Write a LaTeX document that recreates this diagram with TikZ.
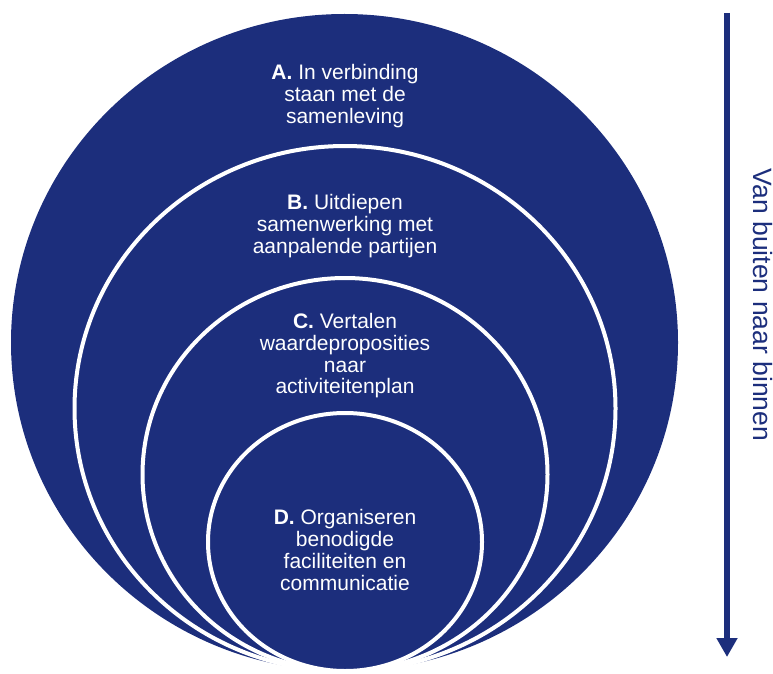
\documentclass[tikz,border=0pt]{standalone}
\usepackage{fontspec}
\setmainfont{Liberation Sans}
\usetikzlibrary{arrows.meta}
\definecolor{navy}{RGB}{28,46,124}
\begin{document}
\begin{tikzpicture}[x=1pt, y=-1pt, line join=round,
		ring/.style={fill=navy, draw=white, line width=4pt},
		lbl/.style={text=white, align=center, font=\fontsize{21}{21.7}\selectfont}]
			\useasboundingbox (0,0) rectangle (773,674);
			% outer ring, no rim
			\fill[navy] (344.5,342.5) ellipse [x radius=333.5, y radius=328.5];
			\foreach \cy/\rx/\ry in {408.5/270.5/262.5, 474.5/202.5/196.5, 542/137/129}
			\draw[ring] (345,\cy) ellipse [x radius=\rx, y radius=\ry];
			\node[lbl] (ringA) at (345,96) {\textbf{A.} In verbinding\\staan met de\\samenleving};
			\node[lbl] (ringB) at (345,226) {\textbf{B.} Uitdiepen\\samenwerking met\\aanpalende partijen};
			\node[lbl] (ringC) at (345,356) {\textbf{C.} Vertalen\\waardeproposities\\naar\\activiteitenplan};
			\node[lbl] (ringD) at (345,550) {\textbf{D.} Organiseren\\benodigde\\faciliteiten en\\communicatie};
			% direction
			\coordinate (top) at (727,13);
			\coordinate (tip) at (727,657);
			\draw[navy, line width=6pt, -{Triangle[width=20pt,length=19pt]}] (top) -- (tip);
			\node[rotate=-90, anchor=base, text=navy, font=\fontsize{26.5}{30}\selectfont] (side) at (753,305) {Van buiten naar binnen};
		\end{tikzpicture}
\end{document}
